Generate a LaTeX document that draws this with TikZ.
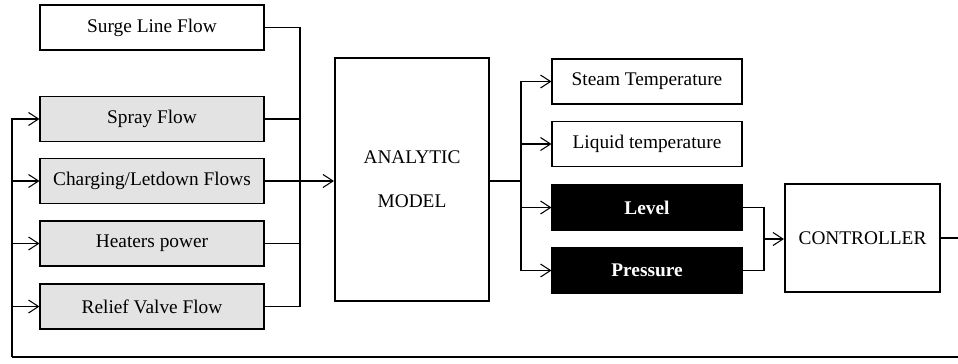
\documentclass[tikz,border=0pt]{standalone}
\usepackage{fontspec}
\setmainfont{Liberation Serif}
\usetikzlibrary{arrows.meta, positioning}

\tikzset{
  tip/.style={-{Straight Barb[length=2mm, width=2.6mm]}},
  line/.style={line width=0.6pt},
  inbox/.style={draw, line width=0.6pt, minimum width=4.48cm, minimum height=0.9cm,
    font=\fontsize{11}{13}\selectfont},
  outbox/.style={draw, line width=0.6pt, minimum width=3.8cm, minimum height=0.9cm,
    font=\fontsize{11}{13}\selectfont},
  darkbox/.style={outbox, fill=black, text=white, font=\fontsize{11}{13}\selectfont\bfseries},
  bigbox/.style={draw, line width=1.2pt, font=\fontsize{11}{13}\selectfont, align=center}
}

\begin{document}
\begin{tikzpicture}
    \useasboundingbox (0,0) rectangle (19.16,7.26);

    % inputs
    \node[inbox] (surge) at (3.04,6.71) {Surge Line Flow};
    \node[inbox, fill=gray!22] (spray) at (3.04,4.88) {Spray Flow};
    \node[inbox, fill=gray!22] (charging) at (3.04,3.64) {Charging/Letdown Flows};
    \node[inbox, fill=gray!22] (heaters) at (3.04,2.39) {Heaters power};
    \node[inbox, fill=gray!22] (relief) at (3.04,1.13) {Relief Valve Flow};

    % model and outputs
    \node[bigbox, minimum width=3.08cm, minimum height=4.86cm] (model) at (8.24,3.67)
        {ANALYTIC\\[12pt]MODEL};
    \node[outbox] (steam) at (12.94,5.63) {Steam Temperature};
    \node[outbox] (liquid) at (12.94,4.38) {Liquid temperature};
    \node[darkbox] (level) at (12.94,3.11) {Level};
    \node[darkbox] (pressure) at (12.94,1.85) {Pressure};
    \node[bigbox, minimum width=3.1cm, minimum height=2.16cm] (ctrl) at (17.25,2.50)
        {CONTROLLER};

    \coordinate (inbus) at (6.0,3.64);
    \coordinate (outbus) at (10.42,3.64);
    \coordinate (ctrlbus) at (15.28,2.48);
    \coordinate (fbcorner) at (0.24,0.12);

    % collect inputs
    \draw[line] (surge.east) -| (inbus);
    \draw[line] (relief.east) -| (inbus);
    \draw[line] (spray.east) -- (spray.east -| inbus);
    \draw[line] (heaters.east) -- (heaters.east -| inbus);
    \draw[line, tip] (charging.east) -- (charging.east -| model.west);

    % spread outputs
    \draw[line] (model.east |- outbus) -- (outbus);
    \draw[line, tip] (outbus) |- (steam.west);
    \draw[line, tip] (outbus) |- (liquid.west);
    \draw[line, tip] (outbus) |- (level.west);
    \draw[line, tip] (outbus) |- (pressure.west);

    % to the controller
    \draw[line] (level.east) -| (ctrlbus);
    \draw[line] (pressure.east) -| (ctrlbus);
    \draw[line, tip] (ctrlbus) -- (ctrlbus -| ctrl.west);

    % feedback
    \draw[line width=1.2pt] (ctrl.east) -- ++(1,0) |- (fbcorner);
    \draw[line] (fbcorner) -- (fbcorner |- relief.west);
    \draw[line, tip] (fbcorner) |- (spray.west);
    \draw[line, tip] (fbcorner |- charging.west) -- (charging.west);
    \draw[line, tip] (fbcorner |- heaters.west) -- (heaters.west);
    \draw[line, tip] (fbcorner |- relief.west) -- (relief.west);
\end{tikzpicture}
\end{document}
